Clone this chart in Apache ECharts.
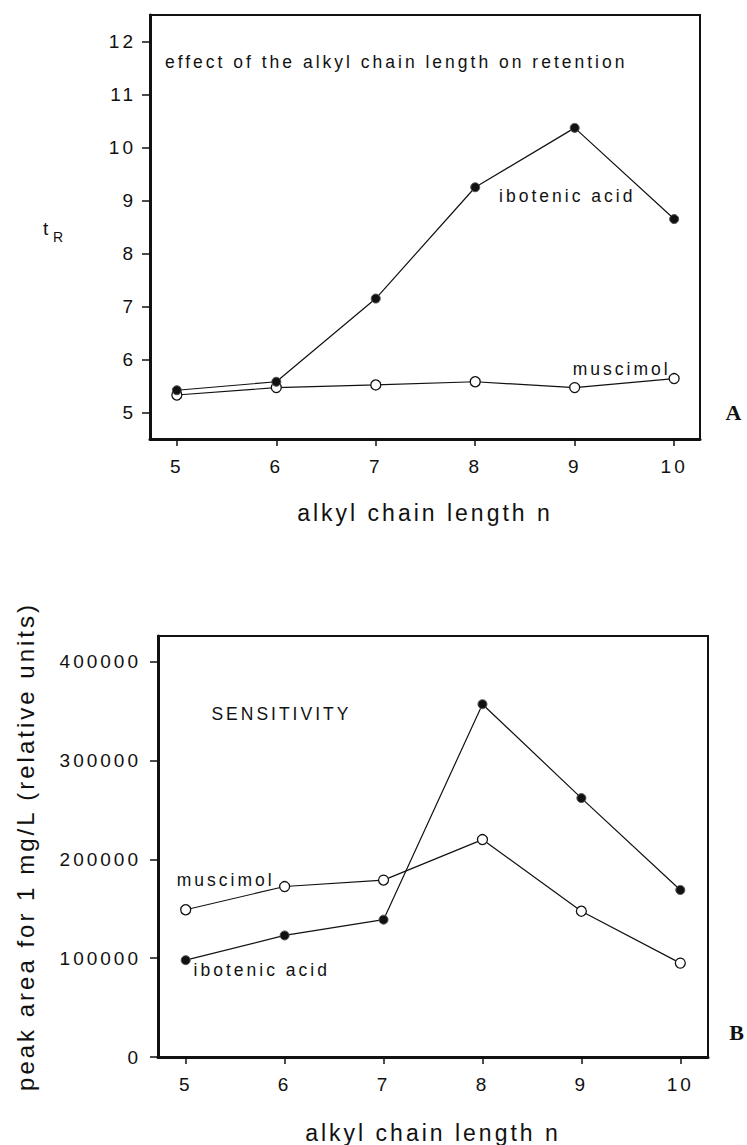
<!DOCTYPE html>
<html>
<head>
<meta charset="utf-8">
<script src="https://cdn.jsdelivr.net/npm/echarts@6/dist/echarts.min.js"></script>
<style>
html, body { margin: 0; padding: 0; background: #fff; }
#main { width: 747px; height: 1145px; }
#main text { letter-spacing: 3px; }
</style>
</head>
<body>
<div id="main"></div>
<script>
// alkyl chain length n (x values for both panels)
var chainLength = [5, 6, 7, 8, 9, 10];
var retentionTicks = [5, 6, 7, 8, 9, 10, 11, 12];
var areaTicks = [0, 100000, 200000, 300000, 400000];

// panel A: retention time tR
var iboRetention = [5.42, 5.58, 7.15, 9.25, 10.37, 8.65];
var musRetention = [5.33, 5.47, 5.52, 5.58, 5.47, 5.64];

// panel B: peak area for 1 mg/L
var iboArea = [98000, 123000, 139000, 357000, 262000, 169000];
var musArea = [149000, 172500, 179000, 220000, 147500, 95000];

var font = 'Liberation Sans';
var ink = '#111';

function pairs(ys) {
  return chainLength.map(function(n, i) { return [n, ys[i]]; });
}

function xAxisFor(grid, min, max, gap) {
  return {
    type: 'value', gridIndex: grid, min: min, max: max,
    name: 'alkyl chain length n', nameLocation: 'middle', nameGap: gap,
    nameTextStyle: { fontFamily: font, fontSize: 23, color: ink },
    axisLine: { show: true, onZero: false, lineStyle: { color: ink, width: 3 } },
    axisTick: { show: true, length: 7, customValues: chainLength, lineStyle: { color: ink, width: 1.5 } },
    axisLabel: { customValues: chainLength, margin: 18, fontFamily: font, fontSize: 19, color: ink },
    splitLine: { show: false }
  };
}

function yAxisFor(grid, min, max, ticks, margin) {
  return {
    type: 'value', gridIndex: grid, min: min, max: max,
    axisLine: { show: true, lineStyle: { color: ink, width: 3 } },
    axisTick: { show: true, length: 8, customValues: ticks, lineStyle: { color: ink, width: 1.5 } },
    axisLabel: { customValues: ticks, margin: margin, fontFamily: font, fontSize: 19, color: ink,
      formatter: function(v) { return String(v); } },
    splitLine: { show: false }
  };
}

function lineSeries(name, grid, ys, filled) {
  return {
    name: name, type: 'line', xAxisIndex: grid, yAxisIndex: grid,
    data: pairs(ys),
    symbol: 'circle', symbolSize: filled ? 9 : 10,
    itemStyle: { color: filled ? ink : '#fff', borderColor: filled ? '#555' : ink, borderWidth: filled ? 1 : 1.3 },
    lineStyle: { color: ink, width: 1.2 },
    z: filled ? 3 : 2
  };
}

var chart = echarts.init(document.getElementById('main'), null, { renderer: 'svg' });

var yArea = yAxisFor(1, 0, 426000, areaTicks, 17);
yArea.name = 'peak area for 1 mg/L (relative units)';
yArea.nameLocation = 'middle';
yArea.nameGap = 121;
yArea.nameTextStyle = { fontFamily: font, fontSize: 24, color: ink };

var option = {
  backgroundColor: '#fff',
  animation: false,
  grid: [
    { left: 150, top: 15, width: 550, height: 424, show: true, borderColor: ink, borderWidth: 2 },
    { left: 158, top: 636, width: 550, height: 421, show: true, borderColor: ink, borderWidth: 2 }
  ],
  xAxis: [xAxisFor(0, 4.73, 10.26, 62), xAxisFor(1, 4.72, 10.28, 64)],
  yAxis: [yAxisFor(0, 4.5, 12.5, retentionTicks, 14), yArea],
  series: [
    lineSeries('muscimol', 0, musRetention, false),
    lineSeries('ibotenic acid', 0, iboRetention, true),
    lineSeries('muscimol', 1, musArea, false),
    lineSeries('ibotenic acid', 1, iboArea, true)
  ]
};
chart.setOption(option);

// text notes placed in data coordinates of each panel
var notes = [
  { grid: 0, at: [4.88, 11.62], text: 'effect of the alkyl chain length on retention' },
  { grid: 0, at: [8.24, 9.09], text: 'ibotenic acid' },
  { grid: 0, at: [8.98, 5.83], text: 'muscimol' },
  { grid: 1, at: [5.26, 347000], text: 'SENSITIVITY' },
  { grid: 1, at: [4.91, 179500], text: 'muscimol' },
  { grid: 1, at: [5.08, 88000], text: 'ibotenic acid' }
];

var graphics = notes.map(function(d) {
  var p = chart.convertToPixel({ gridIndex: d.grid }, d.at);
  return {
    type: 'text', x: p[0], y: p[1],
    style: { text: d.text, fontFamily: font, fontSize: 17.5, fill: ink, align: 'left', verticalAlign: 'middle' }
  };
});

graphics.push(
  { type: 'text', x: 43, y: 228, style: { text: 't', fontFamily: font, fontSize: 19, fill: ink, verticalAlign: 'middle' } },
  { type: 'text', x: 53, y: 237, style: { text: 'R', fontFamily: font, fontSize: 14, fill: ink, verticalAlign: 'middle' } },
  { type: 'text', x: 735, y: 412, style: { text: 'A', fontFamily: 'Liberation Serif', fontWeight: 'bold', fontSize: 22, fill: ink, align: 'center', verticalAlign: 'middle' } },
  { type: 'text', x: 738, y: 1032, style: { text: 'B', fontFamily: 'Liberation Serif', fontWeight: 'bold', fontSize: 22, fill: ink, align: 'center', verticalAlign: 'middle' } }
);

chart.setOption({ graphic: graphics });
</script>
</body>
</html>
